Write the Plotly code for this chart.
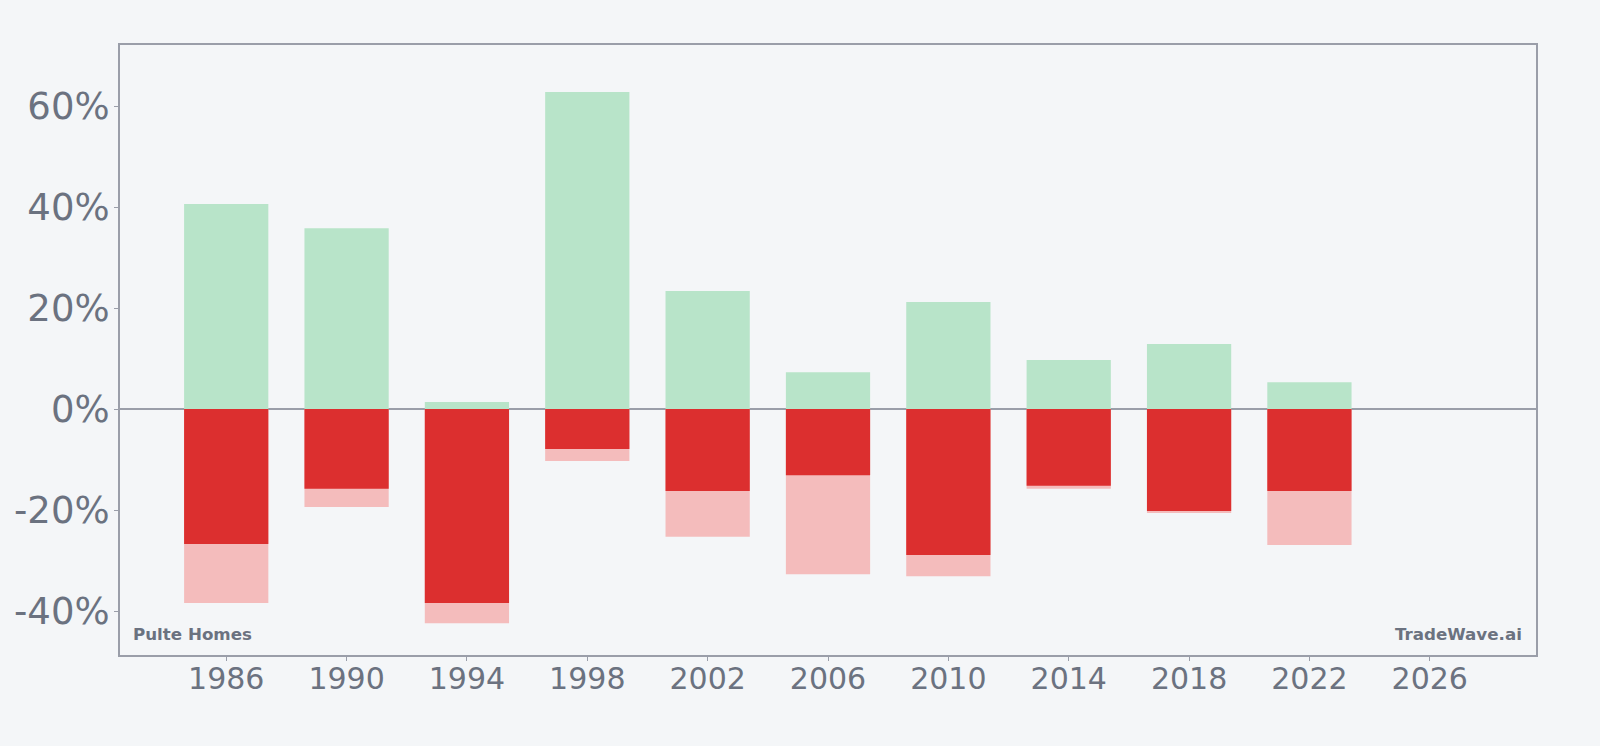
import plotly.graph_objects as go

years = [1986, 1990, 1994, 1998, 2002, 2006, 2010, 2014, 2018, 2022]
gains = [40.6, 35.8, 1.4, 62.8, 23.4, 7.3, 21.2, 9.7, 12.9, 5.3]
drawdown_close = [-26.7, -15.8, -38.4, -7.9, -16.2, -13.1, -28.9, -15.2, -20.2, -16.2]
drawdown_low = [-38.4, -19.4, -42.4, -10.3, -25.3, -32.7, -33.1, -15.8, -20.6, -26.9]
x_ticks = [1986, 1990, 1994, 1998, 2002, 2006, 2010, 2014, 2018, 2022, 2026]
y_ticks = [-40, -20, 0, 20, 40, 60]

axis_col = "#9a9ea9"
text_col = "#6b7280"
bg = "#f4f6f8"
bw = 2.8

fig = go.Figure()
fig.add_trace(go.Bar(x=years, y=drawdown_low, width=bw, marker=dict(color="#f4bcbc", line=dict(width=0)), hoverinfo="skip"))
fig.add_trace(go.Bar(x=years, y=drawdown_close, width=bw, marker=dict(color="#dc2f2f", line=dict(width=0)), hoverinfo="skip"))
fig.add_trace(go.Bar(x=years, y=gains, width=bw, marker=dict(color="#b8e4c9", line=dict(width=0)), hoverinfo="skip"))

fig.update_layout(
    barmode="overlay",
    showlegend=False,
    width=1600, height=746,
    paper_bgcolor=bg, plot_bgcolor=bg,
    margin=dict(l=120, r=64, t=45, b=91),
    font=dict(family="DejaVu Sans", color=text_col),
    xaxis=dict(range=[1982.47, 2029.53], tickvals=x_ticks, ticktext=[str(t) for t in x_ticks],
               tickfont=dict(size=30, color=text_col), showgrid=False, zeroline=False,
               showline=True, linecolor=axis_col, linewidth=2, mirror=True,
               ticks="outside", ticklen=4, tickcolor=axis_col, tickwidth=1,
               ticklabelstandoff=-8),
    yaxis=dict(range=[-48.7, 72.1], tickvals=y_ticks, ticktext=[f"{t}%" for t in y_ticks],
               tickfont=dict(size=37, color=text_col), showgrid=False,
               zeroline=True, zerolinecolor=axis_col, zerolinewidth=2,
               showline=True, linecolor=axis_col, linewidth=2, mirror=True,
               ticks="outside", ticklen=4, tickcolor=axis_col, tickwidth=1,
               ticklabelstandoff=-3),
    annotations=[
        dict(text="<b>Pulte Homes</b>", xref="paper", yref="paper", x=0.0078, y=0.014,
             xanchor="left", yanchor="bottom", showarrow=False, font=dict(size=16.7, color=text_col)),
        dict(text="<b>TradeWave.ai</b>", xref="paper", yref="paper", x=0.9914, y=0.014,
             xanchor="right", yanchor="bottom", showarrow=False, font=dict(size=16.7, color=text_col)),
    ],
)

fig.write_html("out.html")
